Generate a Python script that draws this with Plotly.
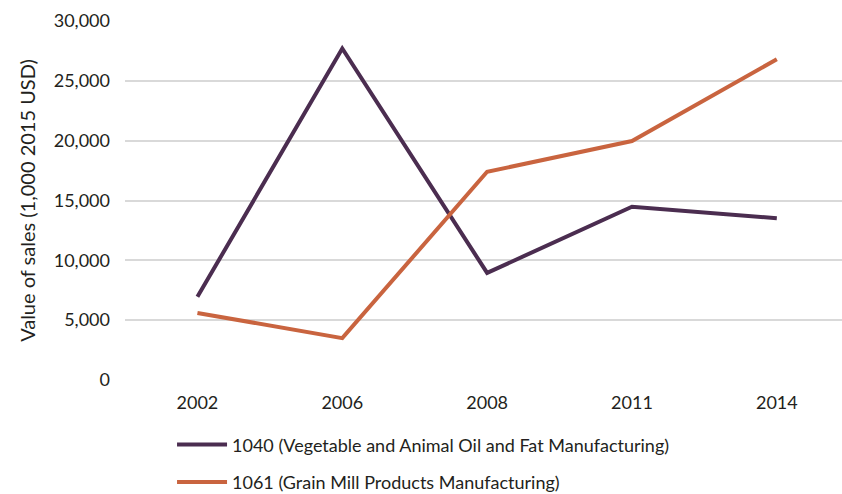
import plotly.graph_objects as go

# Survey years (categorical axis)
years = ["2002", "2006", "2008", "2011", "2014"]

# Value of sales, thousands of 2015 USD
oil_fat = [6950, 27700, 8950, 14480, 13520]
grain_mill = [5600, 3500, 17400, 19970, 26800]

series_names = [
    "1040 (Vegetable and Animal Oil and Fat Manufacturing)",
    "1061 (Grain Mill Products Manufacturing)",
]
series_colors = ["#4B2D50", "#C9643F"]

y_ticks = [0, 5000, 10000, 15000, 20000, 25000, 30000]
y_tick_labels = ["0", "5,000", "10,000", "15,000", "20,000", "25,000", "30,000"]

FONT = "Lato, 'Noto Sans', sans-serif"
TEXT = "#231F20"

fig = go.Figure()
for i, (name, vals, col) in enumerate(zip(series_names, [oil_fat, grain_mill], series_colors)):
    fig.add_trace(go.Scatter(
        x=years, y=vals, name=name, mode="lines",
        line=dict(color=col, width=4),
        legendgroup=f"g{i}",
    ))

fig.update_layout(
    width=842, height=494,
    margin=dict(l=125, r=0, t=21, b=114, autoexpand=False),
    paper_bgcolor="white", plot_bgcolor="white",
    font=dict(family=FONT, size=18, color=TEXT),
    showlegend=True,
    legend=dict(
        orientation="v",
        x=0.0656, xanchor="left",
        yref="container", y=0.137, yanchor="top",
        font=dict(family=FONT, size=18, color=TEXT),
        itemwidth=50,
        tracegroupgap=11,
        bgcolor="rgba(0,0,0,0)",
    ),
    xaxis=dict(
        type="category",
        range=[-0.5, 4.45],
        showgrid=False, showline=False, zeroline=False,
        ticks="", ticklabelstandoff=10,
        tickfont=dict(size=18, color=TEXT),
        fixedrange=True,
    ),
    yaxis=dict(
        range=[0, 30000],
        tickvals=y_ticks, ticktext=y_tick_labels,
        showgrid=True, gridcolor="#D9D9D9", gridwidth=1.5,
        zeroline=False, showline=False,
        ticks="", ticklabelstandoff=14,
        tickfont=dict(size=18, color=TEXT),
        title=dict(text="Value of sales (1,000 2015 USD)", font=dict(size=20, color=TEXT), standoff=12),
    ),
)

fig.write_html("out.html")
